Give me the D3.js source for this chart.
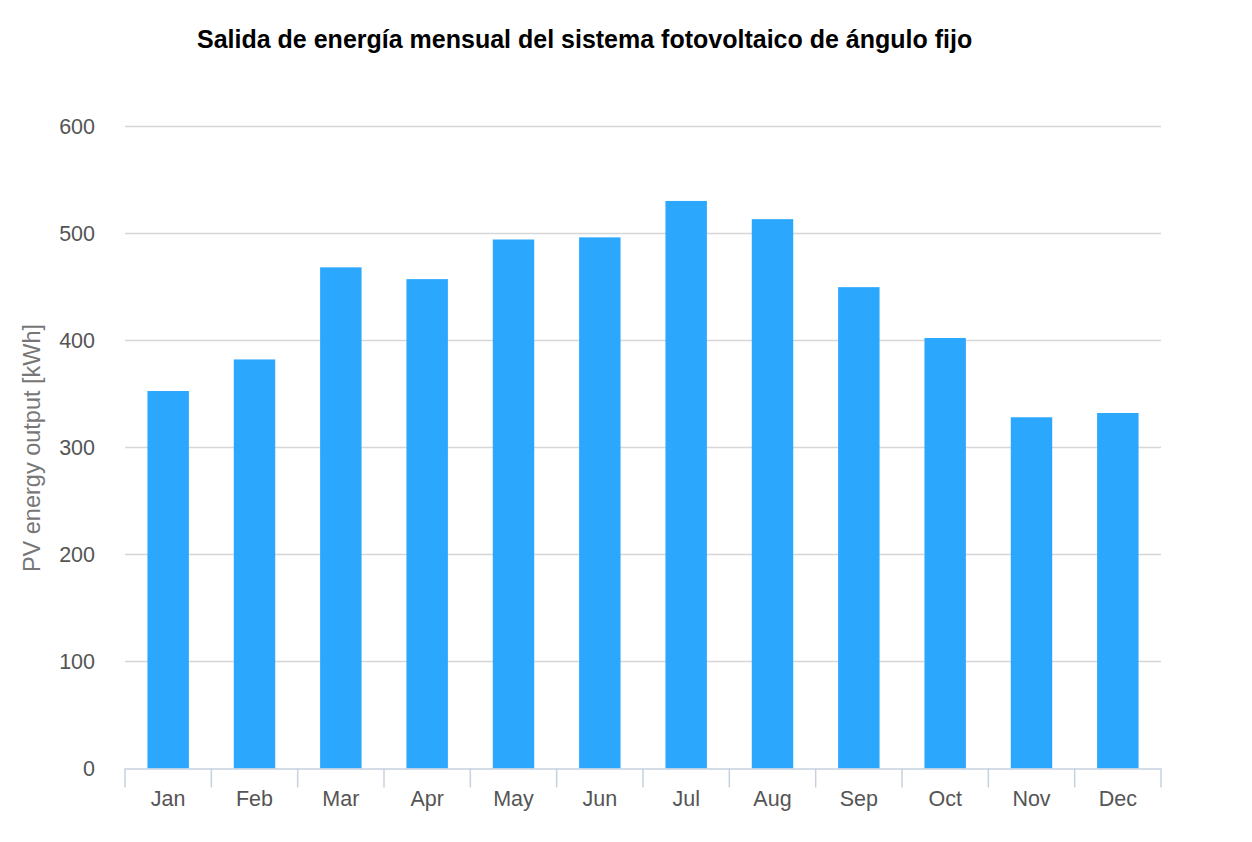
<!DOCTYPE html>
<html><head><meta charset="utf-8">
<script src="https://cdn.jsdelivr.net/npm/d3@7"></script>
<style>body{margin:0;background:#fff}svg{display:block}text{font-family:"Liberation Sans",Arial,Helvetica,sans-serif}</style>
</head><body>
<svg id="c" width="1252" height="842"></svg>
<script>
const months = ["Jan","Feb","Mar","Apr","May","Jun","Jul","Aug","Sep","Oct","Nov","Dec"];
const output = [352.5, 382, 468, 457, 494, 496, 530, 513, 449.5, 402, 328, 332];
const yTicks = [0,100,200,300,400,500,600];
const title = "Salida de energía mensual del sistema fotovoltaico de ángulo fijo";
const yTitle = "PV energy output [kWh]";

const svg = d3.select("#c");
const L=125, R=1161, T=126, B=768.5;
const x = d3.scaleBand().domain(months).range([L,R]).paddingInner(0.52).paddingOuter(0.26);
const y = d3.scaleLinear().domain([0,600]).range([B,T]);

// gridlines
svg.append("g").selectAll("line").data(yTicks.filter(d=>d>0)).join("line")
  .attr("x1",L).attr("x2",R).attr("y1",d=>Math.round(y(d))+0.5).attr("y2",d=>Math.round(y(d))+0.5)
  .attr("stroke","#d6d6d6").attr("stroke-width",1.3);

// y labels
svg.append("g").selectAll("text").data(yTicks).join("text")
  .attr("x",95).attr("y",d=>y(d)).attr("dy","0.36em").attr("text-anchor","end")
  .attr("font-size",21.5).attr("fill","#555").text(d=>d);

// bars
svg.append("g").selectAll("rect").data(output).join("rect")
  .attr("x",(d,i)=>x(months[i])).attr("width",x.bandwidth())
  .attr("y",d=>y(d)).attr("height",d=>B-y(d)).attr("fill","#2ba7fd");

// x axis
const step = (R-L)/months.length;
const xa = svg.append("g");
xa.append("line").attr("x1",L).attr("x2",R).attr("y1",B+0.5).attr("y2",B+0.5).attr("stroke","#c6d1e0").attr("stroke-width",1.5);
xa.selectAll("line.t").data(d3.range(months.length+1)).join("line").attr("class","t")
  .attr("x1",i=>L+i*step).attr("x2",i=>L+i*step).attr("y1",B).attr("y2",B+19)
  .attr("stroke","#c6d1e0").attr("stroke-width",1.5);
xa.selectAll("text").data(months).join("text")
  .attr("x",d=>x(d)+x.bandwidth()/2).attr("y",806).attr("text-anchor","middle")
  .attr("font-size",21.5).attr("fill","#555").text(d=>d);

// y title
svg.append("text").attr("transform","translate(40,448) rotate(-90)").attr("text-anchor","middle")
  .attr("font-size",23.5).attr("fill","#777").text(yTitle);

// title
svg.append("text").attr("x",197).attr("y",48).attr("font-size",25).attr("font-weight","bold")
  .attr("fill","#000").text(title);
</script>
</body></html>
